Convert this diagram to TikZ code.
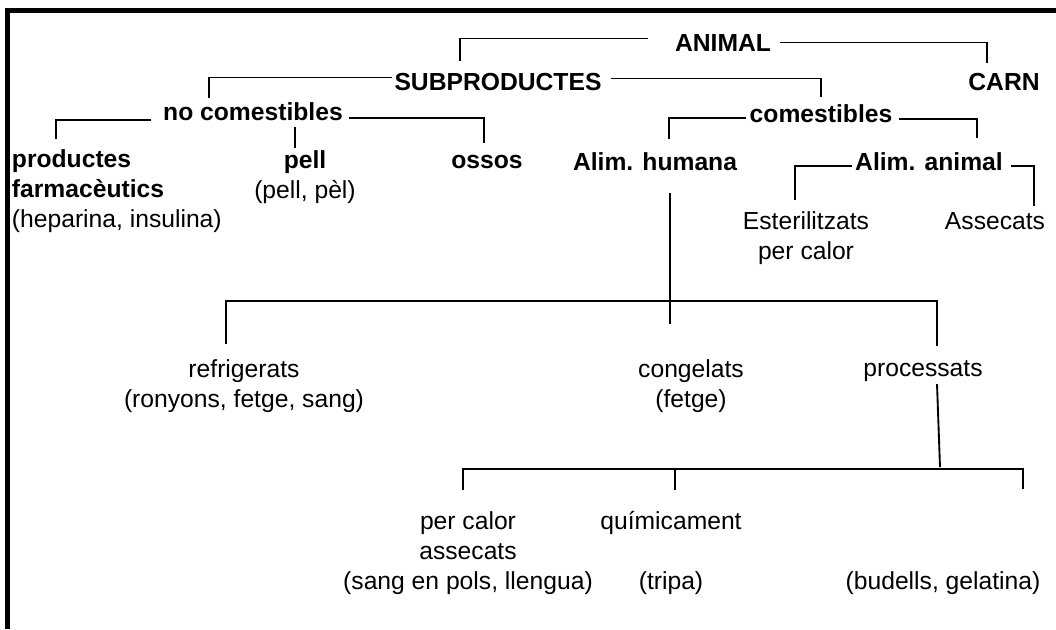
\documentclass[tikz,border=0pt]{standalone}
\usepackage{fontspec}
\setmainfont{Liberation Sans}
\usetikzlibrary{calc}

\begin{document}
\begin{tikzpicture}[x=0.75pt,y=-0.75pt,
    txt/.style={font=\fontsize{18.5}{22.5}\selectfont,inner sep=2pt,align=center,anchor=base},
    head/.style={txt,font=\fontsize{18.5}{22.5}\selectfont\bfseries},
    link/.style={line width=1.4pt},
    frame/.style={line width=3.6pt}]
  \useasboundingbox (0,0) rectangle (1056,629);
  \draw[frame] (7.5,629) -- (7.5,10.5) -- (1056,10.5);

  \node[head] (animal) at (723,51) {ANIMAL};
  \node[head] (sub) at (498,90) {SUBPRODUCTES};
  \node[head] (carn) at (1004,90) {CARN};
  \node[head] (nocom) at (253,120) {no comestibles};
  \node[head] (com) at (821,122) {comestibles};
  \node[txt,align=left,anchor=base west] (farma) at (9,227)
    {\textbf{productes}\\\textbf{farmacèutics}\\(heparina, insulina)};
  \node[txt] (pell) at (305,198) {\textbf{pell}\\(pell, pèl)};
  \node[head] (ossos) at (487,168) {ossos};
  \node[head] (humana) at (655,170) {Alim. humana};
  \node[head] (alimanimal) at (929,170) {Alim. animal};
  \node[txt] (ester) at (806,259) {Esterilitzats\\per calor};
  \node[txt] (assecats) at (995,229) {Assecats};
  \node[txt] (refrig) at (244,407) {refrigerats\\(ronyons, fetge, sang)};
  \node[txt] (congel) at (691,407) {congelats\\(fetge)};
  \node[txt] (proc) at (923,376) {processats};
  \node[txt] (percalor) at (468,589) {per calor\\assecats\\(sang en pols, llengua)};
  \node[txt] (quim) at (671,589) {químicament\\[22.5pt](tripa)};
  \node[txt] (budells) at (943,589) {(budells, gelatina)};

  \draw[link] ([shift={(-24,-4)}]animal.west) -| ([shift={(-38,-9)}]sub.north);
  \draw[link] ([shift={(6,0)}]animal.east) -| ([shift={(-17,-7)}]carn.north);
  \draw[link] ([shift={(0,-4)}]sub.west) -| ([shift={(-44,-1)}]nocom.north);
  \draw[link] ([shift={(7,-3)}]sub.east) -| ([shift={(0,-4)}]com.north);
  \draw[link] ([shift={(-9,9)}]nocom.west) -| ([shift={(47,-7)}]farma.north west);
  \draw[link] ([shift={(3,7)}]nocom.east) -| ([shift={(-3,-9)}]ossos.north);
  \draw[link] ([shift={(-10,1)}]pell.north) -- ++(0,-21);
  \draw[link] ([shift={(-1,5)}]com.west) -| ([shift={(14,-10)}]humana.north);
  \draw[link] ([shift={(4,6)}]com.east) -| ([shift={(48,-11)}]alimanimal.north);
  \draw[link] ([shift={(0,5)}]alimanimal.west) -| ([shift={(-11,-8)}]ester.north);
  \draw[link] ([shift={(5,5)}]alimanimal.east) -| ([shift={(39,-3)}]assecats.north);
  \draw[link] ([shift={(15,20)}]humana.south) -- ([shift={(-21,-32)}]congel.north);
  \draw[link] ([shift={(-18,-12)}]refrig.north) -- ++(0,-43) -| ([shift={(14,-11)}]proc.north);
  \draw[link] ([shift={(14,0)}]proc.south) -- ++(3,83);
  \draw[link] ([shift={(-5,-18)}]percalor.north) -- ++(0,-21) -| ([shift={(80,-79)}]budells.north);
  \draw[link] ([shift={(4,-18)}]quim.north) -- ++(0,-21);
\end{tikzpicture}
\end{document}
